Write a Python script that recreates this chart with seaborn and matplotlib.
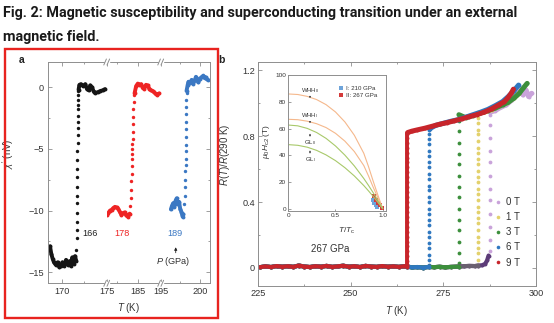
import numpy as np
import pandas as pd
import matplotlib
matplotlib.use("Agg")
import matplotlib.pyplot as plt
from matplotlib.lines import Line2D
from matplotlib.patches import Rectangle
from matplotlib import font_manager
import seaborn as sns

# ---------------- Panel a data (chi' in nV vs T in K) ----------------
# 166 GPa (black)
p166_low_T = [168.66, 168.8, 168.95, 169.1, 169.3, 169.5, 169.7, 169.85, 170.05, 170.25, 170.45, 170.65, 170.85, 171.0, 171.15, 171.3, 171.45, 171.6]
p166_low_X = [-12.9, -13.5, -13.9, -14.2, -14.4, -14.2, -14.6, -14.5, -14.2, -14.5, -14.0, -14.4, -14.1, -14.5, -13.8, -14.3, -13.7, -14.1]
p166_tr_T = [171.62, 171.63, 171.64, 171.65, 171.66, 171.67, 171.68, 171.69, 171.7, 171.71, 171.72, 171.73, 171.74, 171.75, 171.76, 171.77, 171.78, 171.79, 171.8, 171.81, 171.82, 171.83]
p166_tr_X = [-13.2, -12.2, -11.6, -10.9, -10.2, -9.4, -8.8, -8.1, -7.3, -6.6, -5.9, -5.2, -4.5, -3.9, -3.3, -2.8, -2.3, -1.8, -1.4, -1.0, -0.6, -0.3]
p166_top_T = [171.85, 171.95, 172.1, 172.35, 172.6, 172.8, 173.0, 173.15, 173.35, 173.55, 173.7, 174.0, 174.3, 174.55, 174.8]
p166_top_X = [-0.2, 0.2, 0.25, 0.1, 0.25, -0.15, -0.25, 0.15, 0.0, -0.35, -0.45, -0.4, -0.3, -0.25, -0.15]

# 178 GPa (red)
p178_low_T = [181.2, 181.4, 181.6, 181.8, 182.0, 182.2, 182.4, 182.6, 182.8, 183.0, 183.2, 183.4, 183.6, 183.8, 184.0]
p178_low_X = [-10.35, -10.2, -10.0, -9.95, -9.8, -9.7, -9.75, -9.85, -10.1, -10.35, -10.2, -10.15, -10.4, -10.5, -10.25]
p178_tr_T = [184.1, 184.15, 184.2, 184.22, 184.25, 184.27, 184.3, 184.32, 184.33, 184.35, 184.36, 184.38, 184.4, 184.42, 184.45, 184.48, 184.5]
p178_tr_X = [-9.6, -9.0, -8.3, -7.6, -7.0, -6.4, -5.8, -5.4, -5.0, -4.6, -4.2, -3.6, -3.0, -2.4, -1.8, -1.2, -0.6]
p178_top_T = [184.6, 184.8, 185.0, 185.2, 185.4, 185.6, 185.8, 186.0, 186.2, 186.4, 186.6, 186.8, 187.0, 187.2, 187.4, 187.6]
p178_top_X = [-0.5, 0.1, 0.3, 0.2, 0.25, -0.05, -0.1, 0.2, 0.15, -0.1, -0.25, -0.3, -0.4, -0.55, -0.6, -0.5]

# 189 GPa (blue)
p189_low_T = [196.3, 196.45, 196.6, 196.75, 196.9, 197.05, 197.2, 197.35, 197.5, 197.65, 197.8, 197.9]
p189_low_X = [-9.9, -9.6, -9.4, -9.7, -9.2, -9.0, -9.5, -9.3, -9.9, -10.1, -10.5, -10.3]
p189_tr_T = [198.0, 198.05, 198.1, 198.12, 198.15, 198.18, 198.2, 198.22, 198.25, 198.2, 198.18, 198.2, 198.22, 198.25, 198.28, 198.3]
p189_tr_X = [-9.5, -8.8, -8.1, -7.5, -6.8, -6.3, -5.8, -5.2, -4.7, -4.0, -3.4, -2.8, -2.2, -1.6, -1.0, -0.5]
p189_top_T = [198.3, 198.45, 198.55, 198.75, 198.95, 199.15, 199.35, 199.5, 199.65, 199.8, 200.0, 200.2, 200.45, 200.6, 200.75, 200.9, 201.05]
p189_top_X = [-0.3, 0.2, 0.45, 0.35, 0.6, 0.3, 0.55, 0.85, 0.6, 0.4, 0.7, 0.8, 0.95, 0.75, 0.8, 0.65, 0.6]

# ---------------- Panel b data (R(T)/R(290 K) vs T) ----------------
fields = ["0 T", "1 T", "3 T", "6 T", "9 T"]
Tc_field = [287.5, 284.4, 279.1, 271.2, 265.3]
# shared superconducting (zero-resistance) branch
T_low = [225.5, 227, 228.5, 230, 231.5, 233, 234.5, 236, 237.5, 239, 240.5, 242, 243.5, 245, 246.5,
         248, 249.5, 251, 252.5, 254, 255.5, 257, 258.5, 260, 261.5, 263, 264.5, 265.3, 266.5, 268,
         269.5, 271.2, 272.5, 274, 275.5, 277, 279.1, 280.5, 282, 283.5, 284.4, 285.5, 286.3, 286.8, 287.2]
R_low = [0.004, 0.009, 0.005, 0.011, 0.007, 0.01, 0.006, 0.014, 0.008, 0.005, 0.01, 0.007, 0.012, 0.006, 0.009,
         0.013, 0.007, 0.01, 0.005, 0.012, 0.008, 0.006, 0.011, 0.007, 0.009, 0.006, 0.01, 0.008, 0.003, 0.005,
         0.002, 0.006, 0.004, 0.007, 0.003, 0.006, 0.008, 0.01, 0.012, 0.011, 0.014, 0.016, 0.025, 0.045, 0.075]
# transitions (points at T = Tc)
tr_R_0T = [0.10, 0.17, 0.25, 0.33, 0.41, 0.48, 0.56, 0.64, 0.71, 0.79, 0.87, 0.93]
tr_R_1T = [0.02, 0.05, 0.09, 0.12, 0.16, 0.19, 0.23, 0.27, 0.30, 0.34, 0.37, 0.41, 0.45, 0.48,
           0.52, 0.55, 0.59, 0.63, 0.66, 0.70, 0.73, 0.77, 0.81, 0.84, 0.88, 0.91, 0.94]
tr_R_3T = [0.03, 0.09, 0.16, 0.23, 0.29, 0.36, 0.43, 0.49, 0.56, 0.63, 0.69, 0.76, 0.83, 0.89, 0.93]
tr_R_6T = [0.02, 0.05, 0.08, 0.12, 0.15, 0.19, 0.22, 0.26, 0.29, 0.33, 0.36, 0.40, 0.43, 0.47, 0.50,
           0.54, 0.57, 0.61, 0.64, 0.68, 0.71, 0.75, 0.78, 0.81, 0.84]
tr_R_9T = [0.015, 0.04, 0.07, 0.10, 0.13, 0.16, 0.19, 0.22, 0.25, 0.28, 0.31, 0.34, 0.37, 0.40, 0.43, 0.46,
           0.49, 0.52, 0.55, 0.58, 0.61, 0.64, 0.67, 0.70, 0.73, 0.76, 0.79, 0.81, 0.82]
# normal-state branches
up_T_0T = [287.6, 289, 290.5, 292, 293.5, 294.5, 295.5, 296.5, 297.3, 298, 298.8]
up_R_0T = [0.945, 0.955, 0.975, 0.99, 1.02, 1.06, 1.09, 1.05, 1.08, 1.04, 1.06]
up_T_1T = [284.5, 286, 288, 290, 292, 294, 295.5]
up_R_1T = [0.94, 0.945, 0.96, 0.98, 1.0, 1.03, 1.06]
up_T_3T = [279.2, 281, 283, 285, 287, 289, 291, 292.5, 294, 295.5, 296.5, 297.6]
up_R_3T = [0.93, 0.912, 0.925, 0.94, 0.955, 0.97, 0.99, 1.005, 1.03, 1.06, 1.09, 1.12]
up_T_6T = [271.3, 273, 275, 277, 279, 281, 283, 285, 287, 289, 291, 292.5, 294, 295.3]
up_R_6T = [0.845, 0.866, 0.878, 0.89, 0.9, 0.915, 0.93, 0.945, 0.962, 0.985, 1.01, 1.04, 1.075, 1.11]
up_T_9T = [265.4, 266.5, 268, 270, 272, 274, 276, 278, 280, 282, 284, 286, 288, 290, 291.5, 292.5, 293.3, 293.9]
up_R_9T = [0.822, 0.83, 0.838, 0.848, 0.86, 0.872, 0.882, 0.893, 0.905, 0.918, 0.93, 0.945, 0.965, 0.99, 1.01, 1.035, 1.06, 1.085]

# ---------------- Inset data (mu0 Hc2 vs T/Tc) ----------------
t_fit = [0, 0.1, 0.2, 0.3, 0.4, 0.5, 0.6, 0.7, 0.8, 0.85, 0.9, 0.95, 1.0]
whh_II = [86, 85.6, 84.2, 81.8, 78.0, 72.5, 65.0, 55.0, 41.5, 31.5, 20.5, 10.0, 0]
whh_I = [67, 66.7, 65.6, 63.7, 60.8, 56.5, 50.6, 42.8, 32.3, 24.5, 16.0, 8.0, 0]
gl_II = [62.7, 62.1, 60.2, 57.1, 52.7, 47.0, 40.1, 32.0, 22.6, 17.4, 11.9, 6.1, 0]
gl_I = [48, 47.5, 46.1, 43.7, 40.3, 36.0, 30.7, 24.5, 17.3, 13.3, 9.1, 4.7, 0]
sI_t = [0.90, 0.91, 0.925, 0.94]
sI_H = [6.5, 4.5, 3.0, 1.0]
sII_t = [0.912, 0.926, 0.947, 0.972, 0.989]
sII_H = [9.3, 6.8, 4.3, 2.5, 0.5]

# ---------------- styling ----------------
sns.set_style("ticks")
plt.rcParams["font.family"] = ["Liberation Sans", "DejaVu Sans"]
plt.rcParams["mathtext.fontset"] = "custom"
plt.rcParams["mathtext.rm"] = "Liberation Sans"
plt.rcParams["mathtext.it"] = "Liberation Sans:italic"
plt.rcParams["mathtext.bf"] = "Liberation Sans:bold"

W, H = 554, 323
fig = plt.figure(figsize=(W / 100, H / 100), dpi=100)
fig.patch.set_facecolor("white")


def box(l, t, r, b):
    return [l / W, 1 - b / H, (r - l) / W, (b - t) / H]


SPINE = "#8e8e8e"
LABC = "#333333"


def style(ax, fs=6.6, pad=2.5):
    for s in ax.spines.values():
        s.set_color(SPINE)
        s.set_linewidth(0.7)
    ax.tick_params(which="both", direction="in", color=SPINE, width=0.6,
                   labelsize=fs, labelcolor=LABC, pad=pad)
    ax.tick_params(which="major", length=2.6)
    ax.tick_params(which="minor", length=1.6)
    ax.set_xlabel("")
    ax.set_ylabel("")


def seg_line(ax, T, Y, color, lw=2.0, ms=2.2):
    df = pd.DataFrame({"T": T, "Y": Y})
    sns.lineplot(data=df, x="T", y="Y", ax=ax, color=color, lw=lw, marker="o",
                 markersize=ms, markeredgewidth=0, sort=False, estimator=None, legend=False)


def seg_pts(ax, T, Y, color, s=5):
    sns.scatterplot(x=T, y=Y, ax=ax, color=color, s=s, linewidth=0, legend=False)


# ---------------- Title & red box ----------------
names = {f.name for f in font_manager.fontManager.ttflist}
tfam = [n for n in ("Liberation Sans Narrow", "Roboto", "DejaVu Sans") if n in names] or ["DejaVu Sans"]
t1 = fig.text(3.5 / W, 1 - 17 / H,
              "Fig. 2: Magnetic susceptibility and superconducting transition under an external",
              fontsize=10, fontweight="bold", family=tfam,
              va="baseline", ha="left", color="#1a1a1a")
t2 = fig.text(3.5 / W, 1 - 41.5 / H, "magnetic field.", fontsize=10, fontweight="bold",
              family=tfam, va="baseline", ha="left", color="#1a1a1a")
fig.canvas.draw()
w1 = t1.get_window_extent(fig.canvas.get_renderer()).width
fsz = 10 * 520 / w1
t1.set_fontsize(fsz)
t2.set_fontsize(fsz)

fig.add_artist(Rectangle((4.5 / W, 1 - 317.5 / H), 213.5 / W, 268.5 / H, transform=fig.transFigure,
                         fill=False, edgecolor="#e8231f", lw=1.7, zorder=10))

# ---------------- Panel a ----------------
ax1 = fig.add_axes(box(47.7, 62, 106.7, 283.3))
ax2 = fig.add_axes(box(106.7, 62, 160.7, 283.3))
ax3 = fig.add_axes(box(160.7, 62, 210, 283.3))

BLK, RED, BLU = "#151515", "#ee2424", "#3b78c3"
LW_A, MS_A = 2.8, 2.8
seg_line(ax1, p166_low_T, p166_low_X, BLK, LW_A, MS_A)
seg_pts(ax1, p166_tr_T, p166_tr_X, BLK, 6)
seg_line(ax1, p166_top_T, p166_top_X, BLK, LW_A, MS_A)
seg_line(ax2, p178_low_T, p178_low_X, RED, LW_A, MS_A)
seg_pts(ax2, p178_tr_T, p178_tr_X, RED, 6)
seg_line(ax2, p178_top_T, p178_top_X, RED, LW_A, MS_A)
seg_line(ax3, p189_low_T, p189_low_X, BLU, LW_A, MS_A)
seg_pts(ax3, p189_tr_T, p189_tr_X, BLU, 6)
seg_line(ax3, p189_top_T, p189_top_X, BLU, LW_A, MS_A)

for ax, xl, maj, mnr in [(ax1, (168.4, 175.0), [170, 175], [172.5]),
                         (ax2, (181.2, 187.8), [185], [182.5]),
                         (ax3, (195.0, 201.3), [195, 200], [197.5])]:
    style(ax)
    ax.set_xlim(*xl)
    ax.set_ylim(-15.9, 2.05)
    ax.set_xticks(maj)
    ax.set_xticks(mnr, minor=True)
    ax.set_yticks([-15, -10, -5, 0])
    ax.set_yticks([-12.5, -7.5, -2.5], minor=True)
    ax.tick_params(which="both", top=True, bottom=True, left=False, right=False, labelleft=False)
    ax.patch.set_alpha(0)
ax1.tick_params(which="both", left=True, labelleft=True)
ax1.set_yticklabels(["\u221215", "\u221210", "\u22125", "0"])
ax3.tick_params(which="both", right=True)
ax1.spines["right"].set_visible(False)
ax2.spines["left"].set_visible(False)
ax2.spines["right"].set_visible(False)
ax3.spines["left"].set_visible(False)

# break marks
for xb in (106.7, 160.7):
    for yb in (62, 283.3):
        fig.add_artist(Rectangle(((xb - 2.2) / W, 1 - (yb + 1.2) / H), 4.4 / W, 2.4 / H,
                                 transform=fig.transFigure, color="white", zorder=5))
        for dx in (-1.6, 1.6):
            fig.add_artist(Line2D([(xb + dx - 1.3) / W, (xb + dx + 1.3) / W],
                                  [1 - (yb + 3) / H, 1 - (yb - 3) / H],
                                  transform=fig.transFigure, color=SPINE, lw=0.7, zorder=6))

ax1.set_ylabel(r"$\chi'$ (nV)", fontsize=7, color=LABC)
ax1.yaxis.set_label_coords((16.5 - 47.7) / 59.0, (283.3 - 154) / 221.3)
fig.text(128.5 / W, 1 - 308 / H, r"$T$ (K)", fontsize=7, color=LABC, ha="center", va="center")

ax1.text(173.1, -11.9, "166", fontsize=6.6, color="#222222", ha="center", va="center")
ax2.text(183.07, -11.9, "178", fontsize=6.6, color=RED, ha="center", va="center")
ax3.text(196.83, -11.85, "189", fontsize=6.6, color=BLU, ha="center", va="center")
ax3.annotate("", xy=(196.92, -12.75), xytext=(196.92, -13.65),
             arrowprops=dict(arrowstyle="-|>", lw=0.6, color="#222222", mutation_scale=4))
ax3.text(196.57, -14.15, r"$P$ (GPa)", fontsize=6.6, color=LABC, ha="center", va="center")

fig.text(21.7 / W, 1 - 60 / H, "a", fontsize=7.5, fontweight="bold", color="#222222", ha="center", va="center")
fig.text(221.7 / W, 1 - 60 / H, "b", fontsize=7.5, fontweight="bold", color="#222222", ha="center", va="center")

# ---------------- Panel b ----------------
axb = fig.add_axes(box(258, 62, 536, 286))
cols = ["#c9a3da", "#e3d16c", "#3c8f3c", "#2f78c0", "#c7252b"]
low_cols = ["#5c3b78", "#6a6070", "#3c8f3c", "#2f78c0", "#c7252b"]
tr_R = [tr_R_0T, tr_R_1T, tr_R_3T, tr_R_6T, tr_R_9T]
up_T = [up_T_0T, up_T_1T, up_T_3T, up_T_6T, up_T_9T]
up_R = [up_R_0T, up_R_1T, up_R_3T, up_R_6T, up_R_9T]
T_low_a = np.array(T_low)
R_low_a = np.array(R_low)
for i, f in enumerate(fields):
    m = T_low_a <= Tc_field[i] + 0.01
    seg_line(axb, T_low_a[m], R_low_a[m], low_cols[i], lw=3.0, ms=2.8)
    if f == "9 T":
        seg_line(axb, [Tc_field[i]] * len(tr_R[i]), tr_R[i], cols[i], lw=2.8, ms=2.8)
    else:
        seg_pts(axb, [Tc_field[i]] * len(tr_R[i]), tr_R[i], cols[i], s=7.5)
    seg_line(axb, up_T[i], up_R[i], cols[i], lw=3.6, ms=2.8)

style(axb, pad=2)
axb.set_xlim(225, 300)
axb.set_ylim(-0.11, 1.25)
axb.set_xticks([225, 250, 275, 300])
axb.set_xticks([237.5, 262.5, 287.5], minor=True)
axb.set_yticks([0, 0.4, 0.8, 1.2])
axb.set_yticklabels(["0", "0.4", "0.8", "1.2"])
axb.set_yticks([0.2, 0.6, 1.0], minor=True)
axb.tick_params(which="both", top=True, right=True)
axb.set_ylabel(r"$R$($T$)/$R$(290 K)", fontsize=7, color=LABC)
axb.yaxis.set_label_coords((232.5 - 258) / 278.0, (286 - 155) / 224.0)
axb.set_xlabel(r"$T$ (K)", fontsize=7, color=LABC)
axb.xaxis.set_label_coords(0.5, (286 - 304) / 224.0)
axb.text(244.4, 0.112, "267 GPa", fontsize=7, color=LABC, ha="center", va="center")

handles = [Line2D([], [], ls="", marker="o", markersize=2.6, markeredgewidth=0, color=c) for c in cols]
leg = axb.legend(handles, fields, loc="upper left", bbox_to_anchor=((495.5 - 258) / 278.0, (286 - 197.3) / 224.0),
                 frameon=False, fontsize=7, handlelength=0.6, handletextpad=0.5, labelspacing=0.52,
                 borderpad=0, borderaxespad=0, labelcolor=LABC)

# ---------------- Inset ----------------
axi = fig.add_axes(box(288.3, 75.3, 385.5, 211.3))
axi.set_facecolor("white")
ORG, GRN = "#f5b88c", "#a8c96a"
for yy, c in [(whh_II, ORG), (whh_I, ORG), (gl_II, GRN), (gl_I, GRN)]:
    sns.lineplot(x=t_fit, y=yy, ax=axi, color=c, lw=0.8, sort=False, estimator=None, legend=False)
sns.scatterplot(x=sI_t, y=sI_H, ax=axi, color="#6ea4da", marker="s", s=7, linewidth=0, legend=False)
sns.scatterplot(x=sII_t, y=sII_H, ax=axi, color="#d43a3a", marker="s", s=7, linewidth=0, legend=False)
style(axi, fs=4.6, pad=1.5)
axi.set_xlim(0, 1.03)
axi.set_ylim(-2, 100)
axi.set_xticks([0, 0.5, 1.0])
axi.set_xticklabels(["0", "0.5", "1.0"])
axi.set_yticks([0, 20, 40, 60, 80, 100])
axi.tick_params(which="major", length=1.8)
axi.set_xlabel(r"$T/T_{\rm c}$", fontsize=6, color=LABC, labelpad=1)
axi.set_ylabel(r"$\mu_0H_{\rm c2}$ (T)", fontsize=6, color=LABC)
axi.yaxis.set_label_coords((272 - 288.3) / 97.2, (211.3 - 141.7) / 136.0)
axi.xaxis.set_label_coords((346.7 - 288.3) / 97.2, (211.3 - 226) / 136.0)

for txt, ty, a0, a1 in [(r"WHH$_{\rm II}$", 88.5, 86.3, 82.8), (r"WHH$_{\rm I}$", 69.5, 67.5, 64.0),
                        (r"GL$_{\rm II}$", 49.4, 52.0, 58.4), (r"GL$_{\rm I}$", 36.8, 39.4, 45.8)]:
    axi.text(0.23, ty, txt, fontsize=4.3, color=LABC, ha="center", va="center")
    axi.annotate("", xy=(0.23, a1), xytext=(0.23, a0),
                 arrowprops=dict(arrowstyle="-|>", lw=0.4, color="#444444", mutation_scale=2.5))

hi = [Line2D([], [], ls="", marker="s", markersize=2.6, markeredgewidth=0, color=c) for c in ("#6ea4da", "#d43a3a")]
axi.legend(hi, ["I: 210 GPa", "II: 267 GPa"], loc="upper left",
           bbox_to_anchor=((339.5 - 288.3) / 97.2, (211.3 - 85.5) / 136.0), frameon=False, fontsize=4.4,
           handlelength=0.6, handletextpad=0.5, labelspacing=0.35, borderpad=0, borderaxespad=0,
           labelcolor=LABC)

fig.savefig("out.png", dpi=100, facecolor="white")
